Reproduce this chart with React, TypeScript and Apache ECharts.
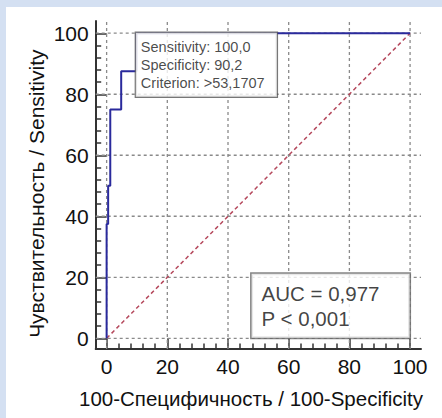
import React, { useEffect, useRef } from "react";
import * as echarts from "echarts";

// ROC curve (100-Specificity, Sensitivity)
const fprValues = [0, 0, 0.5, 0.5, 1.2, 1.2, 4.8, 4.8, 9.8, 9.8, 100];
const tprValues = [0, 37.5, 37.5, 50, 50, 75, 75, 87.5, 87.5, 100, 100];
// reference diagonal
const diagX = [0, 100];
const diagY = [0, 100];
// grid line positions (same on both axes)
const gridValues = [0, 20, 40, 60, 80, 100];
// axis frame extents
const X_MIN = -3.6;
const X_MAX = 103.6;
const Y_MIN = -3.5;
const Y_MAX = 104;
// annotations
const criterionPoint = [9.8, 100];
const criterionLines = ["Sensitivity: 100,0", "Specificity: 90,2", "Criterion: >53,1707"];
const aucAnchor = [100, 0];
const aucLines = ["AUC = 0,977", "P < 0,001"];
const xTitle = "100-Специфичность / 100-Specificity";
const yTitle = "Чувствительность / Sensitivity";

const FONT = "'Liberation Sans', Arial, sans-serif";
const AXIS_COLOR = "#333";
const GRID_COLOR = "#8a8a8a";

export default function App() {
  const ref = useRef<HTMLDivElement>(null);

  useEffect(() => {
    if (!ref.current) return;
    const chart = echarts.init(ref.current, null, { renderer: "svg" });

    const rocData = fprValues.map((x, i) => [x, tprValues[i]]);
    const diagData = diagX.map((x, i) => [x, diagY[i]]);

    const gridSeries = [
      ...gridValues.map((v) => [[v, Y_MIN], [v, Y_MAX]]),
      ...gridValues.map((v) => [[X_MIN, v], [X_MAX, v]]),
    ].map((seg) => ({
      type: "line",
      xAxisIndex: 0,
      yAxisIndex: 0,
      data: seg,
      showSymbol: false,
      symbol: "none",
      clip: false,
      silent: true,
      z: 1,
      lineStyle: { color: GRID_COLOR, width: 1.3, type: [3, 3] },
    }));

    const outerAxis = (min: number, max: number) => ({
      type: "value",
      min,
      max,
      axisLine: { show: true, onZero: false, lineStyle: { color: AXIS_COLOR, width: 2 } },
      axisTick: { show: false },
      axisLabel: { show: false },
      splitLine: { show: false },
    });

    const innerAxis = (offset: number) => ({
      type: "value",
      min: 0,
      max: 100,
      interval: 20,
      offset,
      axisLine: { show: false, onZero: false },
      axisTick: { show: true, inside: true, length: offset, lineStyle: { color: AXIS_COLOR, width: 1.5 } },
      minorTick: { show: true, splitNumber: 5, length: 5.5, lineStyle: { color: AXIS_COLOR, width: 1.5 } },
      axisLabel: { show: true, margin: 7, fontSize: 21, color: "#111", fontFamily: FONT },
      splitLine: { show: false },
    });

    chart.setOption({
      animation: false,
      grid: [
        { left: 89.7, top: 14, width: 325.3, height: 328, show: false },
        { left: 100.7, top: 26.3, width: 303.3, height: 305, show: false },
      ],
      xAxis: [
        { gridIndex: 0, position: "bottom", ...outerAxis(X_MIN, X_MAX) },
        { gridIndex: 1, position: "bottom", ...innerAxis(10.7) },
      ],
      yAxis: [
        { gridIndex: 0, position: "left", ...outerAxis(Y_MIN, Y_MAX) },
        { gridIndex: 1, position: "left", ...innerAxis(11) },
      ],
      graphic: [
        {
          type: "text",
          x: 245,
          y: 391,
          style: {
            text: xTitle,
            fontSize: 20.5,
            fontFamily: FONT,
            fill: "#111",
            align: "center",
            verticalAlign: "middle",
          },
        },
        {
          type: "text",
          x: 30.5,
          y: 186.7,
          rotation: Math.PI / 2,
          style: {
            text: yTitle,
            fontSize: 21,
            fontFamily: FONT,
            fill: "#111",
            align: "center",
            verticalAlign: "middle",
          },
        },
      ],
      series: [
        ...gridSeries,
        {
          type: "line",
          xAxisIndex: 0,
          yAxisIndex: 0,
          data: diagData,
          showSymbol: false,
          symbol: "none",
          clip: false,
          lineStyle: { color: "#b5485c", width: 1.5, type: [4, 3] },
          z: 2,
          silent: true,
        },
        {
          type: "line",
          xAxisIndex: 0,
          yAxisIndex: 0,
          data: rocData,
          showSymbol: false,
          symbol: "none",
          clip: false,
          lineStyle: { color: "#2a2a9c", width: 2 },
          z: 3,
          silent: true,
        },
        {
          type: "scatter",
          xAxisIndex: 0,
          yAxisIndex: 0,
          data: [criterionPoint],
          symbolSize: 1,
          clip: false,
          itemStyle: { color: "rgba(0,0,0,0)" },
          z: 5,
          silent: true,
          label: {
            show: true,
            position: [0, 0],
            align: "left",
            verticalAlign: "top",
            formatter: criterionLines.join("\n"),
            fontSize: 14.5,
            lineHeight: 18,
            fontFamily: FONT,
            color: "#1a1a1a",
            backgroundColor: "#ffffff",
            borderColor: "#555",
            borderWidth: 1.2,
            padding: [5, 5, 5, 5],
            width: 131,
          },
        },
        {
          type: "scatter",
          xAxisIndex: 0,
          yAxisIndex: 0,
          data: [aucAnchor],
          symbolSize: 1,
          clip: false,
          itemStyle: { color: "rgba(0,0,0,0)" },
          z: 5,
          silent: true,
          label: {
            show: true,
            position: [0, 0],
            align: "left",
            verticalAlign: "top",
            offset: [-158, -64],
            formatter: aucLines.join("\n"),
            fontSize: 20.5,
            lineHeight: 25,
            fontFamily: FONT,
            color: "#111",
            backgroundColor: "#ffffff",
            borderColor: "#666",
            borderWidth: 1.5,
            padding: [7, 8, 7, 10],
            width: 140,
          },
        },
      ],
    });

    return () => chart.dispose();
  }, []);

  return (
    <div style={{ position: "fixed", left: 0, top: 0, width: 442, height: 418, background: "#d4e0f2" }}>
      <div
        ref={ref}
        style={{ position: "absolute", left: 6, top: 7, width: 436, height: 411, background: "#ffffff" }}
      />
    </div>
  );
}
